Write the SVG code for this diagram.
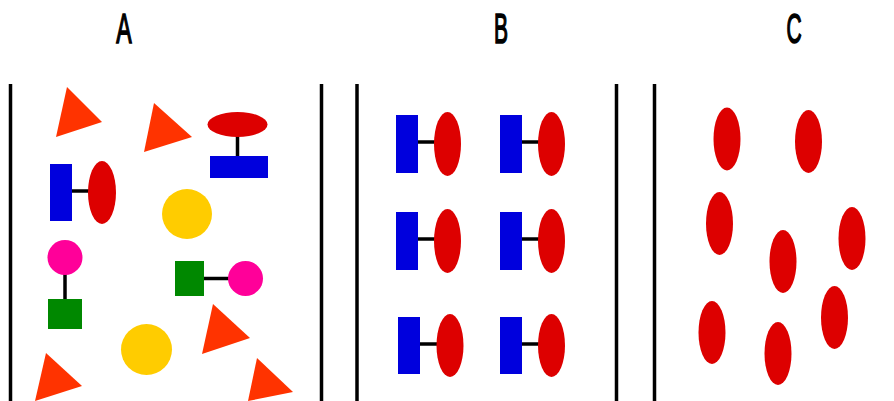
<svg xmlns="http://www.w3.org/2000/svg" width="894" height="401" viewBox="0 0 894 401">
<style>
.bar{stroke:#000;stroke-width:3.5;fill:none}
.link{stroke:#000;stroke-width:3.5;fill:none}
.tri{fill:#FF3300}
.red{fill:#DD0000}
.blue{fill:#0000DD}
.yel{fill:#FFCC00}
.pink{fill:#FF0099}
.grn{fill:#008800}
.lbl{font-family:"Liberation Sans",Arial,sans-serif;font-size:42px;fill:#000;stroke:#000;stroke-width:1.6}
</style>
<rect width="894" height="401" fill="#fff"/>
<g id="labels">
<text class="lbl" transform="translate(124,43) scale(0.55,1)" text-anchor="middle">A</text>
<text class="lbl" transform="translate(501,43) scale(0.5,1)" text-anchor="middle">B</text>
<text class="lbl" transform="translate(794,43) scale(0.5,1)" text-anchor="middle">C</text>
</g>
<g id="dividers">
<line class="bar" x1="10.5" y1="84" x2="10.5" y2="401"/>
<line class="bar" x1="321.5" y1="84" x2="321.5" y2="401"/>
<line class="bar" x1="357" y1="84" x2="357" y2="401"/>
<line class="bar" x1="616.5" y1="84" x2="616.5" y2="401"/>
<line class="bar" x1="654.5" y1="84" x2="654.5" y2="401"/>
</g>
<g id="connectors">
<line class="link" x1="237.5" y1="136" x2="237.5" y2="157"/>
<line class="link" x1="72" y1="191" x2="89" y2="191"/>
<line class="link" x1="65" y1="274" x2="65" y2="300"/>
<line class="link" x1="204" y1="278.5" x2="230" y2="278.5"/>
<line class="link" x1="418" y1="142" x2="435" y2="142"/>
<line class="link" x1="522" y1="142" x2="539" y2="142"/>
<line class="link" x1="418" y1="239" x2="435" y2="239"/>
<line class="link" x1="522" y1="239" x2="539" y2="239"/>
<line class="link" x1="420" y1="344" x2="437" y2="344"/>
<line class="link" x1="522" y1="344" x2="539" y2="344"/>
</g>
<g id="panelA">
<polygon id="a-tri1" class="tri" points="67,87 102,122 56,137"/>
<polygon id="a-tri2" class="tri" points="154,103 192,137 144,152"/>
<polygon id="a-tri3" class="tri" points="213,304 250,338 202,354"/>
<polygon id="a-tri4" class="tri" points="46,353 82,386 35,401"/>
<polygon id="a-tri5" class="tri" points="257,358 293,392 248,401"/>
<g id="a-mol1"><ellipse class="red" cx="237.5" cy="124.5" rx="30" ry="12.5"/><rect class="blue" x="210" y="156" width="58" height="22"/></g>
<g id="a-mol2"><rect class="blue" x="50" y="164" width="22" height="57"/><ellipse class="red" cx="102" cy="192.5" rx="14" ry="31.5"/></g>
<circle id="a-yel1" class="yel" cx="187" cy="214" r="25"/>
<circle id="a-yel2" class="yel" cx="146.5" cy="349.5" r="25.5"/>
<g id="a-mol3"><circle class="pink" cx="65" cy="257.5" r="17.5"/><rect class="grn" x="48" y="299" width="34" height="30"/></g>
<g id="a-mol4"><rect class="grn" x="175" y="261" width="29" height="35"/><circle class="pink" cx="245.5" cy="278.5" r="17.5"/></g>
</g>
<g id="panelB">
<g id="b1"><rect class="blue" x="396" y="115" width="22" height="58"/><ellipse class="red" cx="447.5" cy="144" rx="13.5" ry="32"/></g>
<g id="b2"><rect class="blue" x="500" y="115" width="22" height="58"/><ellipse class="red" cx="551.5" cy="144" rx="13.5" ry="32"/></g>
<g id="b3"><rect class="blue" x="396" y="212" width="22" height="58"/><ellipse class="red" cx="447.5" cy="241" rx="13.5" ry="32"/></g>
<g id="b4"><rect class="blue" x="500" y="212" width="22" height="58"/><ellipse class="red" cx="551.5" cy="241" rx="13.5" ry="32"/></g>
<g id="b5"><rect class="blue" x="398" y="317" width="22" height="57"/><ellipse class="red" cx="450" cy="345.5" rx="13.5" ry="31.5"/></g>
<g id="b6"><rect class="blue" x="500" y="317" width="22" height="57"/><ellipse class="red" cx="551.5" cy="345.5" rx="13.5" ry="31.5"/></g>
</g>
<g id="panelC">
<ellipse id="c1" class="red" cx="727" cy="139" rx="13.5" ry="31.5"/>
<ellipse id="c2" class="red" cx="808.5" cy="141.5" rx="13.5" ry="31.5"/>
<ellipse id="c3" class="red" cx="719.5" cy="223.5" rx="13.5" ry="31.5"/>
<ellipse id="c4" class="red" cx="852" cy="238.5" rx="13.5" ry="31.5"/>
<ellipse id="c5" class="red" cx="783" cy="261.5" rx="13.5" ry="31.5"/>
<ellipse id="c6" class="red" cx="712" cy="332.5" rx="13.5" ry="31.5"/>
<ellipse id="c7" class="red" cx="834.5" cy="317.5" rx="13.5" ry="31.5"/>
<ellipse id="c8" class="red" cx="778" cy="353.5" rx="13.5" ry="31.5"/>
</g>
</svg>
